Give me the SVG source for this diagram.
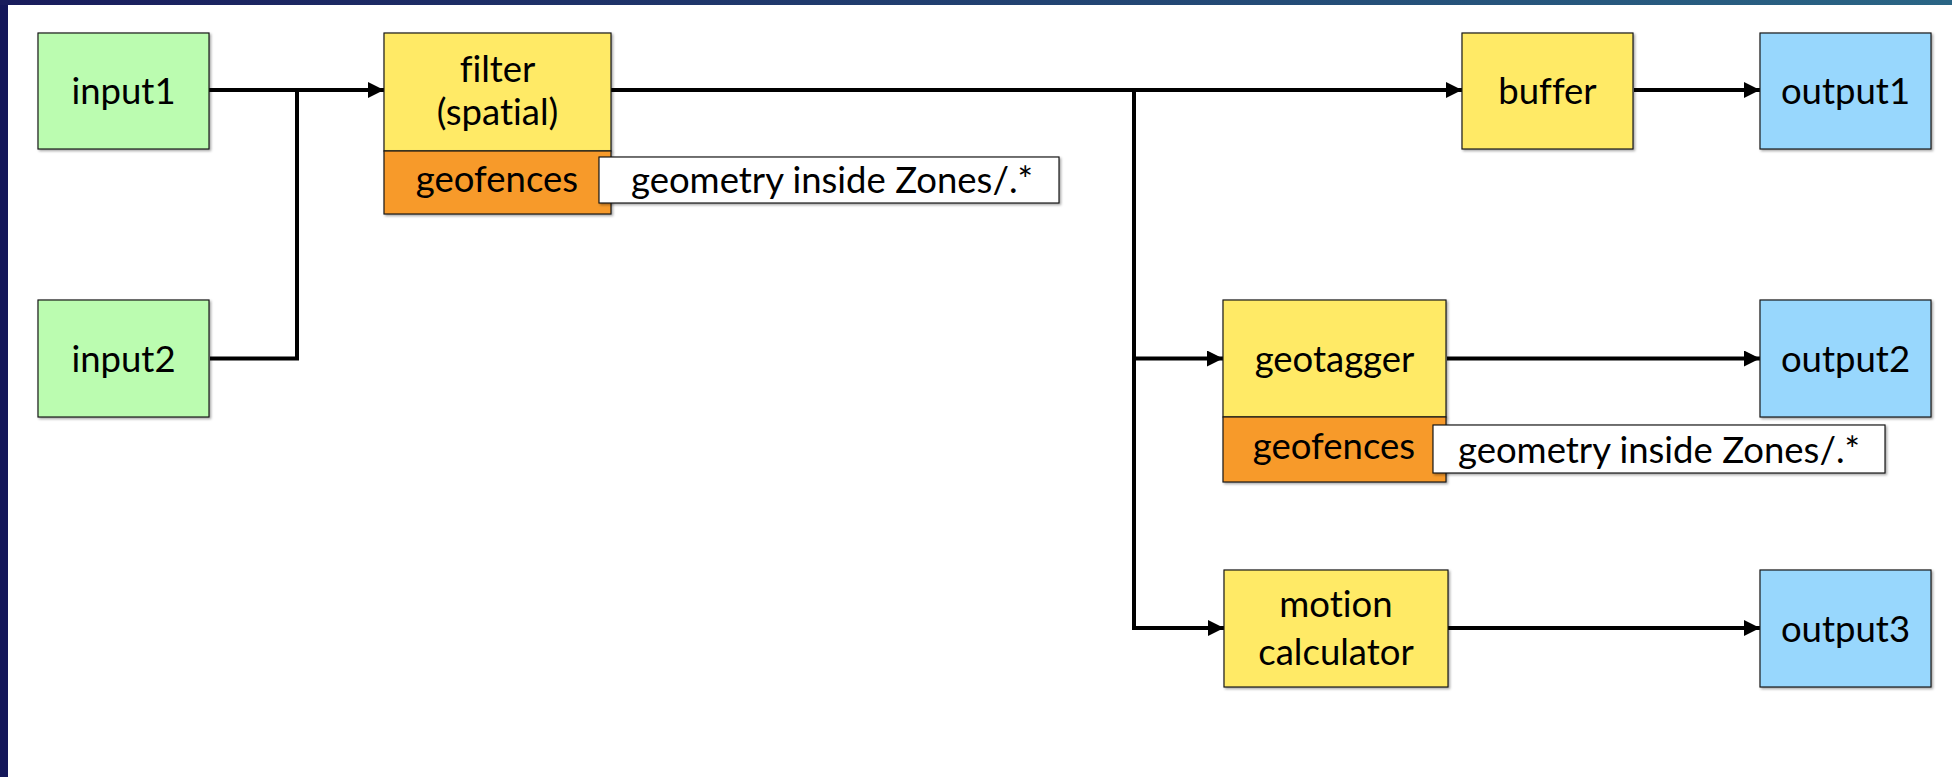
<svg xmlns="http://www.w3.org/2000/svg" width="1952" height="777" viewBox="0 0 1952 777">
  <defs>
    <linearGradient id="topBar" x1="0" y1="0" x2="1" y2="0">
      <stop offset="0" stop-color="#191c5c"/>
      <stop offset="1" stop-color="#2a6585"/>
    </linearGradient>
    <filter id="shadow" x="-5%" y="-5%" width="115%" height="115%">
      <feDropShadow dx="1.5" dy="1.5" stdDeviation="0.8" flood-color="#000" flood-opacity="0.35"/>
    </filter>
    <marker id="arrow" markerUnits="userSpaceOnUse" markerWidth="17" markerHeight="17" refX="16" refY="8" orient="auto">
      <path d="M0,0 L16,8 L0,16 z" fill="#000"/>
    </marker>
  </defs>
  <style>
    .box { stroke: #1a1a1a; stroke-width: 1.2; filter: url(#shadow); }
    .src { fill: #bbfcb0; }
    .proc { fill: #ffea66; }
    .geo { fill: #f79a2a; }
    .sink { fill: #98d7fd; }
    .note { fill: #ffffff; }
    .lbl { font-family: Lato, "Noto Sans", "Liberation Sans", sans-serif; font-size: 36.5px; fill: #000; text-anchor: middle; font-variant-ligatures: none; }
    .wire { fill: none; stroke: #000; stroke-width: 4; }
  </style>

  <!-- page frame -->
  <rect x="0" y="0" width="1952" height="777" fill="#ffffff"/>
  <rect x="0" y="0" width="8" height="777" fill="#14175a"/>
  <rect x="0" y="0" width="1952" height="5" fill="url(#topBar)"/>

  <!-- connectors -->
  <g id="connectors">
    <path class="wire" d="M209,90 H384" marker-end="url(#arrow)"/>
    <path class="wire" d="M210,358.5 H297 V90"/>
    <path class="wire" d="M611,90 H1462" marker-end="url(#arrow)"/>
    <path class="wire" d="M1134,90 V628 H1224" marker-end="url(#arrow)"/>
    <path class="wire" d="M1134,358.5 H1223" marker-end="url(#arrow)"/>
    <path class="wire" d="M1634,90 H1760" marker-end="url(#arrow)"/>
    <path class="wire" d="M1447,358.5 H1760" marker-end="url(#arrow)"/>
    <path class="wire" d="M1448,628 H1760" marker-end="url(#arrow)"/>
  </g>

  <g id="input1">
    <rect class="box src" x="38" y="33" width="171" height="116"/>
    <text class="lbl" x="123.5" y="103.5">input1</text>
  </g>

  <g id="input2">
    <rect class="box src" x="38" y="300" width="171" height="117"/>
    <text class="lbl" x="123.5" y="371.5">input2</text>
  </g>

  <g id="filter">
    <rect class="box proc" x="384" y="33" width="227" height="118"/>
    <text class="lbl" x="497.5" y="81.5">filter</text>
    <text class="lbl" x="497.5" y="125">(spatial)</text>
    <rect class="box geo" x="384" y="151" width="227" height="63"/>
    <text class="lbl" x="497" y="192">geofences</text>
    <rect class="box note" x="599" y="157" width="460" height="46"/>
    <text class="lbl" x="832" y="193">geometry inside Zones/.*</text>
  </g>

  <g id="buffer">
    <rect class="box proc" x="1462" y="33" width="171" height="116"/>
    <text class="lbl" x="1547.5" y="103.5">buffer</text>
  </g>

  <g id="output1">
    <rect class="box sink" x="1760" y="33" width="171" height="116"/>
    <text class="lbl" x="1845.5" y="103.5">output1</text>
  </g>

  <g id="geotagger">
    <rect class="box proc" x="1223" y="300" width="223" height="117"/>
    <text class="lbl" x="1334.5" y="371.5">geotagger</text>
    <rect class="box geo" x="1223" y="417" width="223" height="65"/>
    <text class="lbl" x="1334" y="458.5">geofences</text>
    <rect class="box note" x="1433" y="425" width="452" height="48"/>
    <text class="lbl" x="1659" y="463">geometry inside Zones/.*</text>
  </g>

  <g id="output2">
    <rect class="box sink" x="1760" y="300" width="171" height="117"/>
    <text class="lbl" x="1845.5" y="371.5">output2</text>
  </g>

  <g id="motion">
    <rect class="box proc" x="1224" y="570" width="224" height="117"/>
    <text class="lbl" x="1336" y="617">motion</text>
    <text class="lbl" x="1336" y="665">calculator</text>
  </g>

  <g id="output3">
    <rect class="box sink" x="1760" y="570" width="171" height="117"/>
    <text class="lbl" x="1845.5" y="641.5">output3</text>
  </g>
</svg>
